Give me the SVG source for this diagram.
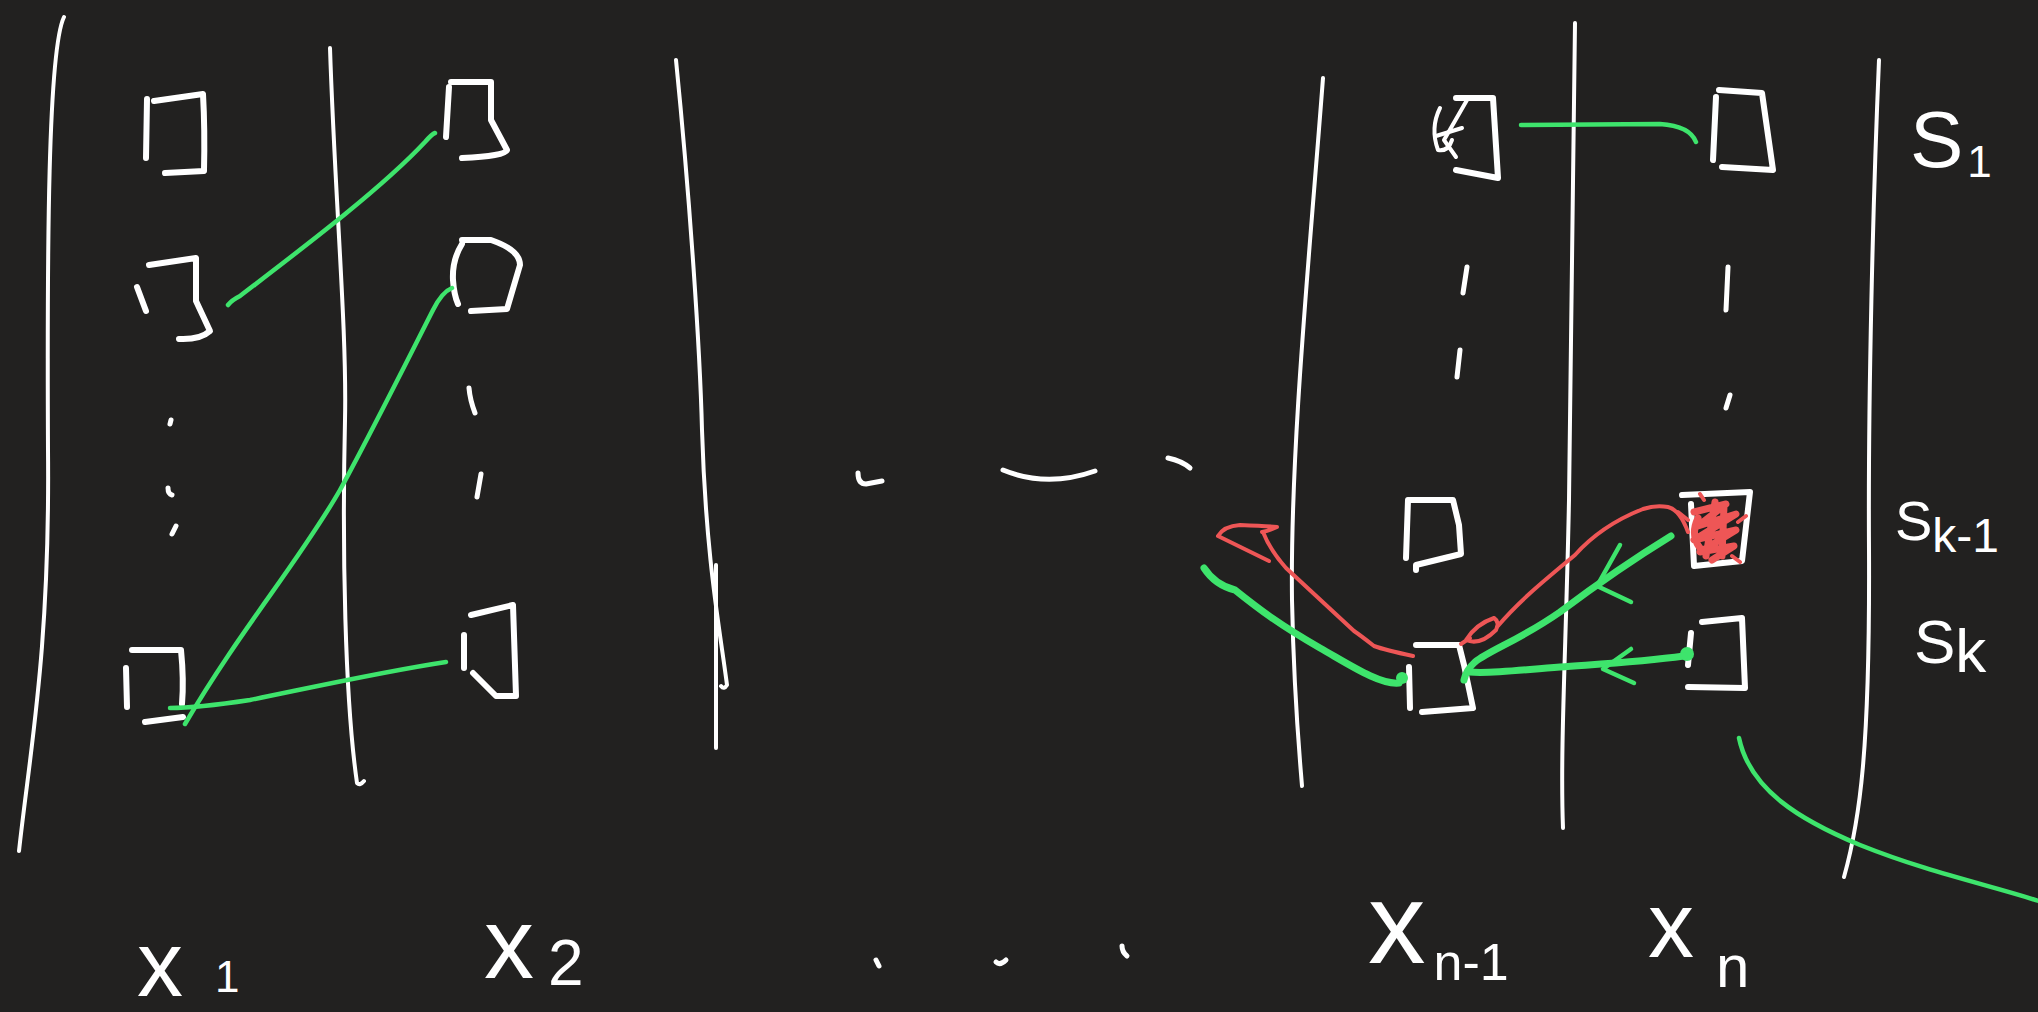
<svg xmlns="http://www.w3.org/2000/svg" width="2038" height="1012" viewBox="0 0 2038 1012">
<style>
.bg{fill:#222120}
path{fill:none;stroke-linecap:round;stroke-linejoin:round}
.wl{stroke:#ffffff;stroke-width:4}
.sq{stroke:#ffffff;stroke-width:6}
.dot{stroke:#ffffff;stroke-width:5}
.g{stroke:#3ee46c;stroke-width:4.5}
.gt{stroke:#3ee46c;stroke-width:7}
.r{stroke:#ee5656;stroke-width:4}
.rs{stroke:#ee5656;stroke-width:7}
.gf{fill:#3ee46c}
.lbl{fill:#ffffff;font-family:"Liberation Sans",Arial,sans-serif}
</style>
<rect class="bg" x="0" y="0" width="2038" height="1012"/>

<g id="columns">
<path class="wl" d="M64,17 C48,50 47,250 48,450 C50,650 30,750 19,851"/>
<path class="wl" d="M330,48 C335,200 347,330 345,420 C342,550 345,700 357,783 Q360,786 364,781"/>
<path class="wl" d="M676,60 C690,200 700,350 702,430 C706,560 720,630 727,685 Q724,690 721,686"/>
<path class="wl" d="M716,565 L716,748"/>
<path class="wl" d="M1323,78 C1310,250 1290,450 1292,600 C1294,700 1300,760 1302,786"/>
<path class="wl" d="M1575,23 L1569,500 C1566,650 1560,750 1563,828"/>
<path class="wl" d="M1879,60 C1873,200 1868,400 1869,550 C1870,750 1860,820 1844,877"/>
</g>

<g id="ellipses">
<path class="dot" d="M171,420 L170,424"/>
<path class="dot" d="M168,488 Q168,494 172,495"/>
<path class="dot" d="M176,526 L172,534"/>
<path class="dot" d="M469,388 Q470,400 475,413"/>
<path class="dot" d="M481,474 L477,497"/>
<path class="dot" d="M1467,267 L1463,293"/>
<path class="dot" d="M1460,350 L1457,377"/>
<path class="dot" d="M1728,267 L1726,310"/>
<path class="dot" d="M1730,395 L1726,408"/>
<path class="dot" d="M858,473 Q858,484 866,484 L882,481"/>
<path class="dot" d="M1003,470 Q1047,488 1095,471"/>
<path class="dot" d="M1168,458 Q1182,461 1190,468"/>
<path class="dot" d="M876,960 L879,966"/>
<path class="dot" d="M996,962 Q1000,966 1006,960"/>
<path class="dot" d="M1122,946 Q1122,952 1127,956"/>
</g>

<g id="node-a1">
<path class="sq" d="M147,99 L146,158"/>
<path class="sq" d="M154,101 L203,94 Q205,130 204,171 L165,173"/>
</g>
<g id="node-a2">
<path class="sq" d="M137,287 L146,311"/>
<path class="sq" d="M149,265 L196,258 L196,301 L210,331 Q200,340 179,339"/>
</g>
<g id="node-a3">
<path class="sq" d="M126,668 L127,707"/>
<path class="sq" d="M132,650 L181,650 Q184,680 182,704"/>
<path class="sq" d="M145,722 L183,717"/>
</g>
<g id="node-b1">
<path class="sq" d="M449,87 L446,137"/>
<path class="sq" d="M451,82 L491,82 L491,120 L507,150 Q505,156 462,158"/>
</g>
<g id="node-b2">
<path class="sq" d="M462,244 Q452,260 453,280 Q454,295 458,304"/>
<path class="sq" d="M462,240 L491,240 Q520,250 520,265 L507,309 L471,311"/>
</g>
<g id="node-b3">
<path class="sq" d="M464,635 L464,668"/>
<path class="sq" d="M471,615 L513,605 L516,696 L496,696 L473,673"/>
</g>
<g id="node-c1">
<path class="sq" d="M1456,98 L1493,98 L1498,178 L1456,170"/>
<path class="wl" d="M1467,100 L1444,140 L1456,157"/>
<path class="wl" d="M1440,108 Q1430,128 1438,150 Q1448,152 1452,140"/>
<path class="wl" d="M1436,136 L1462,128"/>
</g>
<g id="node-c2">
<path class="sq" d="M1408,500 L1406,558"/>
<path class="sq" d="M1410,500 L1453,500 L1459,525 L1461,554 L1416,565 L1416,570"/>
</g>
<g id="node-c3">
<path class="sq" d="M1409,667 L1410,708"/>
<path class="sq" d="M1416,645 L1459,645 L1464,665 L1473,708 L1422,712"/>
</g>
<g id="node-d1">
<path class="sq" d="M1716,97 L1713,160"/>
<path class="sq" d="M1719,90 L1762,93 L1773,170 L1722,167"/>
</g>
<g id="node-d2">
<path class="sq" d="M1682,495 L1750,492 L1742,561 L1694,566 L1691,504"/>
<path class="rs" d="M1694,512 L1726,504 L1698,526 L1736,514 L1694,540 L1736,530 L1700,552 L1734,546 L1712,560 M1715,502 L1706,556 M1724,506 L1722,556 M1698,518 Q1690,535 1700,548"/>
<path class="r" d="M1688,520 L1678,512 M1738,522 L1746,516 M1732,556 L1740,562 M1704,500 L1700,494"/>
</g>
<g id="node-d3">
<path class="sq" d="M1691,633 L1688,665"/>
<path class="sq" d="M1702,622 L1742,618 L1745,688 L1688,687"/>
</g>

<g id="connectors">
<path class="g" d="M228,305 Q232,300 240,296 C300,250 380,190 425,142 Q432,134 435,133"/>
<path class="g" d="M452,288 Q442,292 433,310 C400,375 370,435 340,490 C300,560 240,630 185,724"/>
<path class="g" d="M446,662 C380,672 300,690 250,700 C210,706 185,708 170,708"/>
<path class="g" d="M1521,125 L1660,124 Q1690,126 1696,142"/>
<path class="gt" d="M1204,568 Q1215,585 1235,590 C1260,610 1280,625 1320,648 C1350,665 1380,685 1399,683"/>
<circle class="gf" cx="1402" cy="678" r="6"/>
<path class="r" d="M1413,656 Q1385,650 1374,646 Q1360,635 1354,631 L1286,568 Q1270,550 1263,532"/>
<path class="r" d="M1269,561 L1218,536 Q1224,526 1240,525 Q1265,526 1277,527 Q1268,531 1262,532"/>
<path class="r" d="M1688,532 Q1680,510 1668,507 Q1655,505 1643,509 C1615,520 1592,536 1575,555 C1545,580 1520,600 1497,627"/>
<path class="r" d="M1494,618 Q1476,624 1466,640 Q1480,646 1496,630 Q1500,622 1494,618 M1470,638 L1461,644"/>
<path class="gt" d="M1671,536 C1640,555 1600,582 1560,612 C1520,640 1490,650 1475,662 Q1466,670 1464,680"/>
<path class="g" d="M1620,545 L1597,586 L1631,602"/>
<circle class="gf" cx="1687" cy="654" r="7"/>
<path class="gt" d="M1684,656 C1640,662 1600,664 1560,667 C1520,670 1490,674 1470,672"/>
<path class="g" d="M1631,649 L1603,669 L1634,683"/>
<path class="g" d="M1739,738 C1750,790 1800,820 1860,845 C1930,873 1990,885 2045,903"/>
</g>

<g id="labels">
<text class="lbl" x="137" y="996" font-size="92">x<tspan font-size="44" dx="32" dy="-4">1</tspan></text>
<text class="lbl" x="484" y="978" font-size="100">x<tspan font-size="64" dx="14" dy="7">2</tspan></text>
<text class="lbl" x="1368" y="963" font-size="115">x<tspan font-size="52" dx="8" dy="17">n-1</tspan></text>
<text class="lbl" x="1648" y="957" font-size="92">x<tspan font-size="60" dx="22" dy="30">n</tspan></text>
<text class="lbl" x="1910" y="167" font-size="80">S<tspan font-size="44" dx="4" dy="10">1</tspan></text>
<text class="lbl" x="1895" y="540" font-size="56">S<tspan font-size="48" dy="12">k-1</tspan></text>
<text class="lbl" x="1914" y="663" font-size="62">S<tspan dy="9">k</tspan></text>
</g>
</svg>
